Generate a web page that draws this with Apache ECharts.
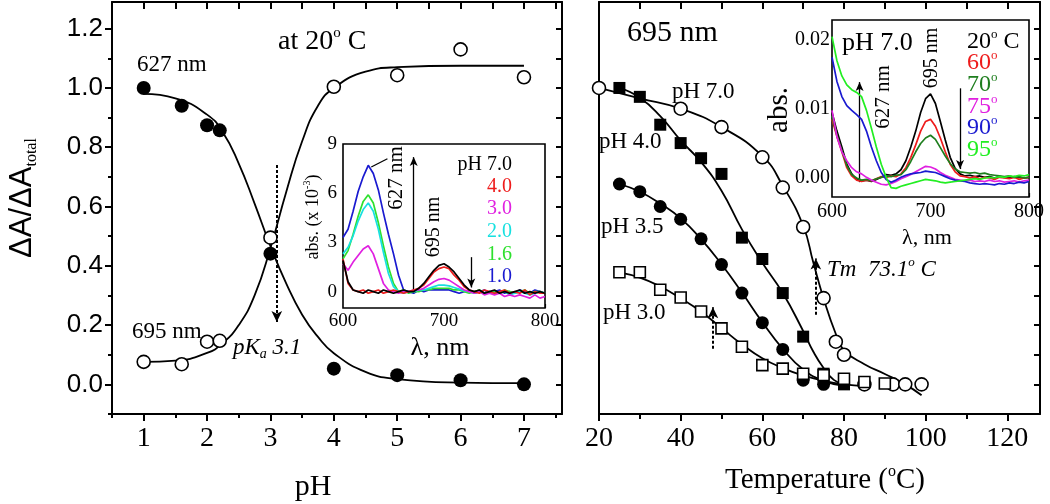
<!DOCTYPE html>
<html><head><meta charset="utf-8">
<script src="https://cdn.jsdelivr.net/npm/echarts@6/dist/echarts.min.js"></script>
<style>html,body{margin:0;padding:0;background:#fff}#c{width:1050px;height:504px}</style>
</head><body><div id="c"></div><script>
// ---------- Left panel: pH titration at 20 C ----------
const pHValues = [1, 1.6, 2, 2.2, 3, 4, 5, 6, 7];
const frac627 = [1.0, 0.94, 0.874, 0.857, 0.441, 0.053, 0.031, 0.014, 0.0];
const frac695 = [0.076, 0.068, 0.144, 0.147, 0.495, 1.004, 1.043, 1.13, 1.036];
const fitPH = [1, 1.5, 2, 2.25, 2.5, 2.75, 3, 3.25, 3.5, 3.75, 4, 4.5, 5, 6, 7];
const fit627 = [0.98, 0.965, 0.91, 0.85, 0.745, 0.61, 0.466, 0.34, 0.235, 0.16, 0.105, 0.042, 0.018, 0.006, 0.004];
const fit695 = [0.076, 0.08, 0.106, 0.14, 0.2, 0.3, 0.46, 0.65, 0.82, 0.94, 1.0, 1.055, 1.07, 1.075, 1.075];

// ---------- Right panel: thermal melting at 695 nm ----------
const tempPH70 = [20, 40, 50, 60, 65, 70, 75, 78, 80, 85, 92, 95, 99];
const frac70 = [1.0, 0.93, 0.868, 0.766, 0.664, 0.531, 0.291, 0.144, 0.10, 0.0, 0.0, 0.0, 0.0];
const tempPH40 = [25, 30, 35, 40, 45, 50, 55, 60, 65, 70, 75, 80];
const frac40 = [1.0, 0.97, 0.876, 0.814, 0.763, 0.71, 0.495, 0.423, 0.308, 0.161, 0.036, 0.0];
const tempPH35 = [25, 30, 35, 40, 45, 50, 55, 60, 65, 70, 75];
const frac35 = [0.676, 0.65, 0.60, 0.557, 0.491, 0.404, 0.308, 0.208, 0.118, 0.014, 0.0];
const tempPH30 = [25, 30, 35, 40, 45, 50, 55, 60, 65, 70, 75, 80, 85, 90];
const frac30 = [0.378, 0.378, 0.319, 0.293, 0.246, 0.189, 0.127, 0.065, 0.053, 0.036, 0.031, 0.019, 0.008, 0.003];

const fitT70 = [20, 30, 40, 50, 60, 65, 70, 72.5, 75, 78, 80, 85, 90, 95, 99];
const fit70 = [1.0, 0.965, 0.93, 0.868, 0.77, 0.67, 0.535, 0.41, 0.29, 0.17, 0.115, 0.068, 0.035, 0.0, -0.037];
const fitT40 = [25, 30, 35, 40, 45, 50, 55, 60, 65, 70, 72.5, 75, 77.5, 80];
const fit40 = [1.0, 0.967, 0.905, 0.823, 0.75, 0.653, 0.523, 0.41, 0.308, 0.18, 0.11, 0.055, 0.015, 0.0];
const fitT35 = [25, 30, 35, 40, 45, 50, 55, 60, 65, 70, 75, 80];
const fit35 = [0.676, 0.65, 0.61, 0.56, 0.49, 0.405, 0.31, 0.21, 0.12, 0.05, 0.012, -0.005];
const fitT30 = [25, 30, 35, 40, 45, 50, 55, 60, 65, 70, 75, 80, 85];
const fit30 = [0.378, 0.36, 0.33, 0.29, 0.245, 0.19, 0.135, 0.088, 0.055, 0.03, 0.012, 0.0, -0.006];

// ---------- Insets: spectra ----------
const wavelength = [600,605,610,615,620,625,630,635,640,645,650,655,660,665,670,675,680,685,690,695,700,705,710,715,720,725,730,735,740,745,750,755,760,765,770,775,780,785,790,795,800];
// left inset, abs x 10^-3, by pH
const specPH70 = [1.9,0.6,0.1,0.0,-0.1,0.1,0.0,-0.1,0.1,0.0,-0.1,0.0,0.1,0.0,0.0,0.2,0.5,0.9,1.3,1.6,1.7,1.5,1.2,0.8,0.4,0.1,0.0,0.1,-0.1,0.0,0.1,-0.1,0.0,-0.1,0.0,0.1,-0.1,0.0,-0.1,0.0,-0.1];
const specPH40 = [2.0,0.5,0.1,0.0,0.1,-0.1,0.0,0.1,-0.1,0.0,0.1,0.0,-0.1,0.0,0.1,0.2,0.4,0.8,1.2,1.4,1.5,1.4,1.0,0.7,0.3,0.1,0.0,-0.1,0.1,0.0,-0.1,0.0,0.1,-0.1,0.0,-0.1,0.1,-0.2,0.0,-0.1,-0.1];
const specPH30 = [1.7,1.3,1.8,2.2,2.6,2.8,2.3,1.4,0.5,0.1,0.0,-0.1,0.0,0.0,0.1,0.1,0.2,0.4,0.6,0.75,0.8,0.7,0.5,0.3,0.1,0.0,-0.1,0.0,-0.2,-0.1,-0.2,-0.1,-0.3,-0.2,-0.3,-0.2,-0.3,-0.4,-0.2,-0.4,-0.3];
const specPH20 = [2.3,2.7,3.4,4.3,5.0,5.4,4.9,3.8,2.4,1.1,0.3,0.0,-0.1,0.0,0.0,0.1,0.1,0.2,0.3,0.4,0.4,0.35,0.25,0.15,0.05,0.0,-0.1,0.0,-0.1,0.0,-0.1,-0.1,0.0,-0.2,-0.1,0.0,-0.1,-0.2,-0.1,0.0,-0.1];
const specPH16 = [2.0,2.5,3.5,4.6,5.5,5.9,5.4,4.2,2.8,1.5,0.5,0.0,0.1,-0.1,0.0,0.0,0.1,0.1,0.2,0.2,0.2,0.2,0.1,0.1,0.0,-0.1,0.0,0.1,-0.1,0.0,0.0,-0.1,0.1,0.0,-0.1,0.0,0.1,-0.1,0.0,0.0,-0.1];
const specPH10 = [3.3,3.8,4.9,6.1,7.0,7.7,7.2,6.2,4.8,3.5,2.3,1.0,0.1,0.0,-0.1,0.1,0.0,0.1,0.1,0.1,0.1,0.1,0.0,-0.1,0.0,0.1,-0.1,0.0,0.1,-0.1,0.0,0.1,-0.1,0.0,-0.1,0.1,0.0,-0.1,0.1,0.0,-0.1];
// right inset, abs, pH 7.0 by temperature
const specT20 = [0.0095,0.0068,0.0045,0.002,0.0006,-0.0002,-0.0004,-0.0003,-0.0005,-0.0002,0.0001,0.0005,0.0004,0.0006,0.0012,0.0025,0.0045,0.0068,0.0095,0.0115,0.0122,0.0108,0.0082,0.0055,0.003,0.0014,0.0006,0.0003,0.0004,0.0002,0.0003,0.0001,0.0002,0.0,0.0002,0.0001,0.0,0.0002,0.0001,0.0,0.0001];
const specT60 = [0.0085,0.006,0.0038,0.0015,0.0003,-0.0003,-0.0005,-0.0003,-0.0004,-0.0001,0.0002,0.0001,0.0003,0.0002,0.0006,0.0015,0.003,0.0048,0.0068,0.0082,0.0085,0.0075,0.0058,0.0038,0.002,0.0009,0.0003,0.0002,0.0,0.0002,-0.0001,0.0001,0.0,-0.0002,0.0001,0.0,-0.0001,0.0001,-0.0002,0.0,0.0001];
const specT70 = [0.009,0.0062,0.004,0.0018,0.0005,0.0,-0.0003,-0.0002,-0.0004,-0.0001,0.0001,0.0003,0.0002,0.0004,0.0005,0.0012,0.0024,0.0038,0.005,0.0058,0.0062,0.0056,0.0044,0.0032,0.0021,0.0013,0.0009,0.0008,0.0007,0.0008,0.0006,0.0007,0.0005,0.0004,0.0003,0.0002,0.0003,0.0001,0.0002,0.0,0.0001];
const specT75 = [0.0098,0.006,0.0038,0.0025,0.0015,0.0009,0.0006,0.0001,-0.0003,-0.0006,-0.0009,-0.001,-0.0008,-0.0005,-0.0001,0.0002,0.0005,0.0009,0.0013,0.0017,0.0016,0.0013,0.0008,0.0004,0.0001,-0.0002,-0.0003,-0.0004,-0.0003,-0.0005,-0.0004,-0.0005,-0.0003,-0.0005,-0.0004,-0.0006,-0.0005,-0.0004,-0.0006,-0.0004,-0.0003];
const specT90 = [0.0175,0.014,0.0118,0.0105,0.0098,0.0092,0.0085,0.0068,0.0045,0.0025,0.0008,-0.0002,-0.0006,-0.0003,0.0001,0.0004,0.0006,0.0007,0.0008,0.001,0.0009,0.0008,0.0005,0.0002,-0.0001,-0.0003,-0.0004,-0.0005,-0.0007,-0.0008,-0.0009,-0.0008,-0.0009,-0.001,-0.0008,-0.0009,-0.0007,-0.0008,-0.0006,-0.0007,-0.0005];
const specT95 = [0.0205,0.017,0.0148,0.0135,0.0128,0.0124,0.0118,0.0098,0.0072,0.0045,0.002,0.0001,-0.0014,-0.0015,-0.0012,-0.001,-0.0008,-0.0006,-0.0004,-0.0002,-0.0003,-0.0004,-0.0006,-0.0007,-0.0006,-0.0005,-0.0004,-0.0003,-0.0002,-0.0001,-0.0002,0.0,0.0001,0.0,0.0002,0.0001,0.0003,0.0002,0.0004,0.0003,0.0005];

// ---------- Tick values ----------
const pHTicks = [1, 2, 3, 4, 5, 6, 7];
const pHMinorTicks = [0.5, 1.5, 2.5, 3.5, 4.5, 5.5, 6.5, 7.5];
const fracTicks = [0, 0.2, 0.4, 0.6, 0.8, 1.0, 1.2];
const fracMinorTicks = [-0.1, 0.1, 0.3, 0.5, 0.7, 0.9, 1.1];
const tempTicks = [20, 40, 60, 80, 100, 120];
const tempMinorTicks = [30, 50, 70, 90, 110];
const lamTicks = [600, 700, 800];
const lamMinorTicks = [650, 750];
const absLeftTicks = [0, 3, 6, 9];
const absRightTicks = [0, 0.01, 0.02];

const SERIF = '"Liberation Serif","Times New Roman",serif';
const SANS = '"Liberation Sans",Arial,sans-serif';
const K = '#000';
const C = {red:'#ee1c1c', magenta:'#e020e0', cyan:'#18e0e0', green:'#2ee02e', blue:'#1a1ad0', dkgreen:'#1e7e1e', ltgreen:'#22ee22'};

const zip = (xs, ys) => xs.map((x, i) => [x, ys[i]]);
const all = (a, b) => a.concat(b).sort((p, q) => p - q);

function ax(o) {
  const base = {type:'value', splitLine:{show:false},
    axisLine:{show:false, onZero:false, lineStyle:{color:K, width:2}},
    axisTick:{show:false}, axisLabel:{show:false}};
  const r = Object.assign(base, o);
  if (o.axisLine) r.axisLine = Object.assign({onZero:false, lineStyle:{color:K, width:2}}, o.axisLine);
  return r;
}
const tick = (vals, len, inside, w) => ({show:true, customValues:vals, length:len, inside:!!inside, lineStyle:{color:K, width:w || 2}});

const xAxis = [
  ax({gridIndex:0, position:'bottom', min:0.5, max:7.6, axisLine:{show:true},
      axisTick:tick(pHTicks, 7), axisLabel:{show:true, customValues:pHTicks, color:K, fontFamily:SERIF, fontSize:28, margin:11}}),
  ax({gridIndex:0, position:'bottom', min:0.5, max:7.6, axisTick:tick(pHMinorTicks, 4)}),
  ax({gridIndex:0, position:'top', min:0.5, max:7.6, axisLine:{show:true}, axisTick:tick(all(pHTicks, pHMinorTicks), 7, true)}),
  ax({gridIndex:1, position:'bottom', min:20, max:128, axisLine:{show:true},
      axisTick:tick(tempTicks, 7), axisLabel:{show:true, customValues:tempTicks, color:K, fontFamily:SERIF, fontSize:28, margin:11}}),
  ax({gridIndex:1, position:'bottom', min:20, max:128, axisTick:tick(tempMinorTicks, 5)}),
  ax({gridIndex:1, position:'top', min:20, max:128, axisLine:{show:true}, axisTick:tick(all(tempTicks, tempMinorTicks), 7, true)}),
  ax({gridIndex:2, position:'bottom', min:600, max:800, axisTick:tick(all(lamTicks, lamMinorTicks), 4, true, 1.2),
      axisLabel:{show:true, customValues:lamTicks, color:K, fontFamily:SERIF, fontSize:19, margin:4}}),
  ax({gridIndex:3, position:'bottom', min:600, max:800, axisTick:tick(all(lamTicks, lamMinorTicks), 4, true, 1.2),
      axisLabel:{show:true, customValues:lamTicks, color:K, fontFamily:SERIF, fontSize:20, margin:5}})
];
const yAxis = [
  ax({gridIndex:0, position:'left', min:-0.1, max:1.29, axisLine:{show:true},
      axisTick:tick(fracTicks, 7), axisLabel:{show:true, customValues:fracTicks, formatter:v => Number(v).toFixed(1), color:K, fontFamily:SANS, fontSize:26, margin:9}}),
  ax({gridIndex:0, position:'left', min:-0.1, max:1.29, axisTick:tick(fracMinorTicks, 4)}),
  ax({gridIndex:0, position:'right', min:-0.1, max:1.29, axisLine:{show:true}, axisTick:tick(all(fracTicks, fracMinorTicks), 6, true)}),
  ax({gridIndex:1, position:'left', min:-0.1, max:1.29, axisLine:{show:true}}),
  ax({gridIndex:1, position:'right', min:-0.1, max:1.29, axisLine:{show:true}, axisTick:tick(all(fracTicks, fracMinorTicks), 6, true)}),
  ax({gridIndex:2, position:'left', min:-1, max:9, axisTick:tick(absLeftTicks, 4, true, 1.2),
      axisLabel:{show:true, customValues:absLeftTicks, color:K, fontFamily:SERIF, fontSize:19, margin:6}}),
  ax({gridIndex:3, position:'left', min:-0.00275, max:0.0229, axisTick:tick(absRightTicks, 4, true, 1.2),
      axisLabel:{show:true, customValues:absRightTicks, formatter:v => Number(v).toFixed(2), color:K, fontFamily:SERIF, fontSize:20, margin:2}})
];

const fitLine = (xi, yi, xs, ys) => ({type:'line', xAxisIndex:xi, yAxisIndex:yi, data:zip(xs, ys), smooth:0.5,
  showSymbol:false, symbol:'none', lineStyle:{color:K, width:1.8}, z:3});
const pts = (xi, yi, xs, ys, symbol, size, filled) => ({type:'scatter', xAxisIndex:xi, yAxisIndex:yi, data:zip(xs, ys),
  symbol:symbol, symbolSize:size, itemStyle: filled ? {color:K, opacity:1} : {color:'#fff', borderColor:K, borderWidth:1.6, opacity:1}, z:4});
const spec = (xi, yi, ys, color, z) => ({type:'line', xAxisIndex:xi, yAxisIndex:yi, data:zip(wavelength, ys),
  showSymbol:false, symbol:'none', lineStyle:{color:color, width:1.7}, z:z});
const arrows = (list, dashed, w, head) => ({silent:true, animation:false, symbol:['none', 'arrow'], symbolSize:head || [8, 11],
  label:{show:false}, lineStyle:{color:K, width:w, type: dashed ? [3, 2] : 'solid'}, emphasis:{disabled:true},
  data:list.map(([a, b, noHead]) => [{coord:a, symbol:'none'}, {coord:b, symbol: noHead ? 'none' : 'arrow'}])});

const series = [
  Object.assign(fitLine(0, 0, fitPH, fit627), {markLine: arrows([[[3.1, 0.74], [3.1, 0.21]]], true, 2)}),
  fitLine(0, 0, fitPH, fit695),
  pts(0, 0, pHValues, frac627, 'circle', 14, true),
  pts(0, 0, pHValues, frac695, 'circle', 13, false),

  Object.assign(fitLine(3, 3, fitT70, fit70), {markLine: arrows([[[73.1, 0.235], [73.1, 0.425]], [[47.9, 0.12], [47.9, 0.26]]], true, 2)}),
  fitLine(3, 3, fitT40, fit40),
  fitLine(3, 3, fitT35, fit35),
  fitLine(3, 3, fitT30, fit30),
  pts(3, 3, tempPH70, frac70, 'circle', 13, false),
  pts(3, 3, tempPH40, frac40, 'rect', 12, true),
  pts(3, 3, tempPH35, frac35, 'circle', 13, true),
  pts(3, 3, tempPH30, frac30, 'rect', 11, false),

  Object.assign(spec(6, 5, specPH10, C.blue, 10), {markLine: arrows([[[670, 0], [670, 8.2]], [[727, 2.1], [727, 0.25]], [[628, 7.6], [644, 8.1], true]], false, 1.3, [6, 9])}),
  spec(6, 5, specPH16, C.green, 11),
  spec(6, 5, specPH20, C.cyan, 12),
  spec(6, 5, specPH30, C.magenta, 13),
  spec(6, 5, specPH40, C.red, 14),
  spec(6, 5, specPH70, K, 15),

  Object.assign(spec(7, 6, specT20, K, 10), {markLine: arrows([[[628, -0.0006], [628, 0.0139]], [[730, 0.013], [730, 0.0013]]], false, 1.3, [6, 9])}),
  spec(7, 6, specT60, C.red, 11),
  spec(7, 6, specT70, C.dkgreen, 12),
  spec(7, 6, specT75, C.magenta, 13),
  spec(7, 6, specT90, C.blue, 14),
  spec(7, 6, specT95, C.ltgreen, 15)
];

function txt(x, y, text, o) {
  o = o || {};
  return {type:'text', x:x, y:y, rotation:o.rot || 0, z:100, silent:true,
    style:{text:text, fill:o.color || K, font:(o.italic ? 'italic ' : '') + (o.size || 22) + 'px ' + (o.family || SERIF),
      align:o.align || 'left', verticalAlign:'middle', rich:o.rich}};
}
function richT(size, color, italic) {
  const st = italic ? 'italic' : 'normal';
  return {
    n:{fontSize:size, fontFamily:SERIF, fontStyle:st, lineHeight:size + 4, fill:color || K},
    s:{fontSize:Math.round(size * 0.55), fontFamily:SERIF, fontStyle:st, verticalAlign:'top', lineHeight:Math.round(size * 0.55), fill:color || K},
    b:{fontSize:Math.round(size * 0.6), fontFamily:SERIF, fontStyle:st, verticalAlign:'bottom', lineHeight:Math.round(size * 0.45), fill:color || K}
  };
}
const PI2 = Math.PI / 2;
const graphic = [
  txt(278, 42, '{n|at 20}{s|o}{n| C}', {rich:richT(28)}),
  txt(137, 65, '627 nm', {size:23}),
  txt(132, 332, '695 nm', {size:23}),
  txt(233, 348, '{n|pK}{b|a}{n| 3.1}', {rich:richT(23, K, true)}),
  txt(313, 487, 'pH', {size:30, align:'center'}),
  txt(22, 198, '{m|ΔA/ΔA}{t|total}', {rot:PI2, align:'center', rich:{
    m:{fontSize:31, fontFamily:SANS, lineHeight:36, fill:K},
    t:{fontSize:16, fontFamily:SERIF, verticalAlign:'bottom', lineHeight:14, fill:K}}}),
  txt(627, 33, '695 nm', {size:30}),
  txt(672, 92, 'pH 7.0', {size:23}),
  txt(599, 142, 'pH 4.0', {size:23}),
  txt(601, 227, 'pH 3.5', {size:23}),
  txt(603, 313, 'pH 3.0', {size:23}),
  txt(827, 270, '{n|Tm  73.1}{s|o}{n| C}', {rich:richT(23, K, true)}),
  txt(825, 480, '{n|Temperature (}{s|o}{n|C)}', {align:'center', rich:richT(29)}),
  txt(512, 165, 'pH 7.0', {size:20, align:'right'}),
  txt(512, 187, '4.0', {size:20, align:'right', color:C.red}),
  txt(512, 209, '3.0', {size:20, align:'right', color:C.magenta}),
  txt(512, 232, '2.0', {size:20, align:'right', color:C.cyan}),
  txt(512, 255, '1.6', {size:20, align:'right', color:C.green}),
  txt(512, 277, '1.0', {size:20, align:'right', color:C.blue}),
  txt(396, 178, '627 nm', {size:21, rot:PI2, align:'center'}),
  txt(434, 227, '695 nm', {size:20, rot:PI2, align:'center'}),
  txt(313, 217, '{n|abs. (x 10}{s|-3}{n|)}', {rot:PI2, align:'center', rich:richT(18)}),
  txt(440, 348, 'λ, nm', {size:26, align:'center'}),
  txt(842, 43, 'pH 7.0', {size:26}),
  txt(967, 42, '{n|20}{s|o}{n| C}', {rich:richT(24)}),
  txt(967, 63, '{n|60}{s|o}', {rich:richT(24, C.red)}),
  txt(967, 85, '{n|70}{s|o}', {rich:richT(24, C.dkgreen)}),
  txt(967, 107, '{n|75}{s|o}', {rich:richT(24, C.magenta)}),
  txt(967, 128, '{n|90}{s|o}', {rich:richT(24, C.blue)}),
  txt(967, 150, '{n|95}{s|o}', {rich:richT(24, C.ltgreen)}),
  txt(883, 97, '627 nm', {size:21, rot:PI2, align:'center'}),
  txt(932, 58, '695 nm', {size:20, rot:PI2, align:'center'}),
  txt(779, 110, 'abs.', {size:29, rot:PI2, align:'center'}),
  txt(927, 238, 'λ, nm', {size:22, align:'center'})
];

const chart = echarts.init(document.getElementById('c'), null, {renderer:'canvas'});
chart.setOption({
  animation:false,
  backgroundColor:'#fff',
  textStyle:{fontFamily:SERIF},
  grid:[
    {left:112, top:2, width:450, height:412},
    {left:599, top:2, width:441, height:412},
    {left:343, top:144, width:202, height:164, show:true, backgroundColor:'#fff', borderColor:K, borderWidth:1.6, z:1},
    {left:832, top:20, width:197, height:177, show:true, backgroundColor:'#fff', borderColor:K, borderWidth:1.6, z:1}
  ],
  xAxis:xAxis,
  yAxis:yAxis,
  series:series,
  graphic:graphic
});
</script></body></html>
